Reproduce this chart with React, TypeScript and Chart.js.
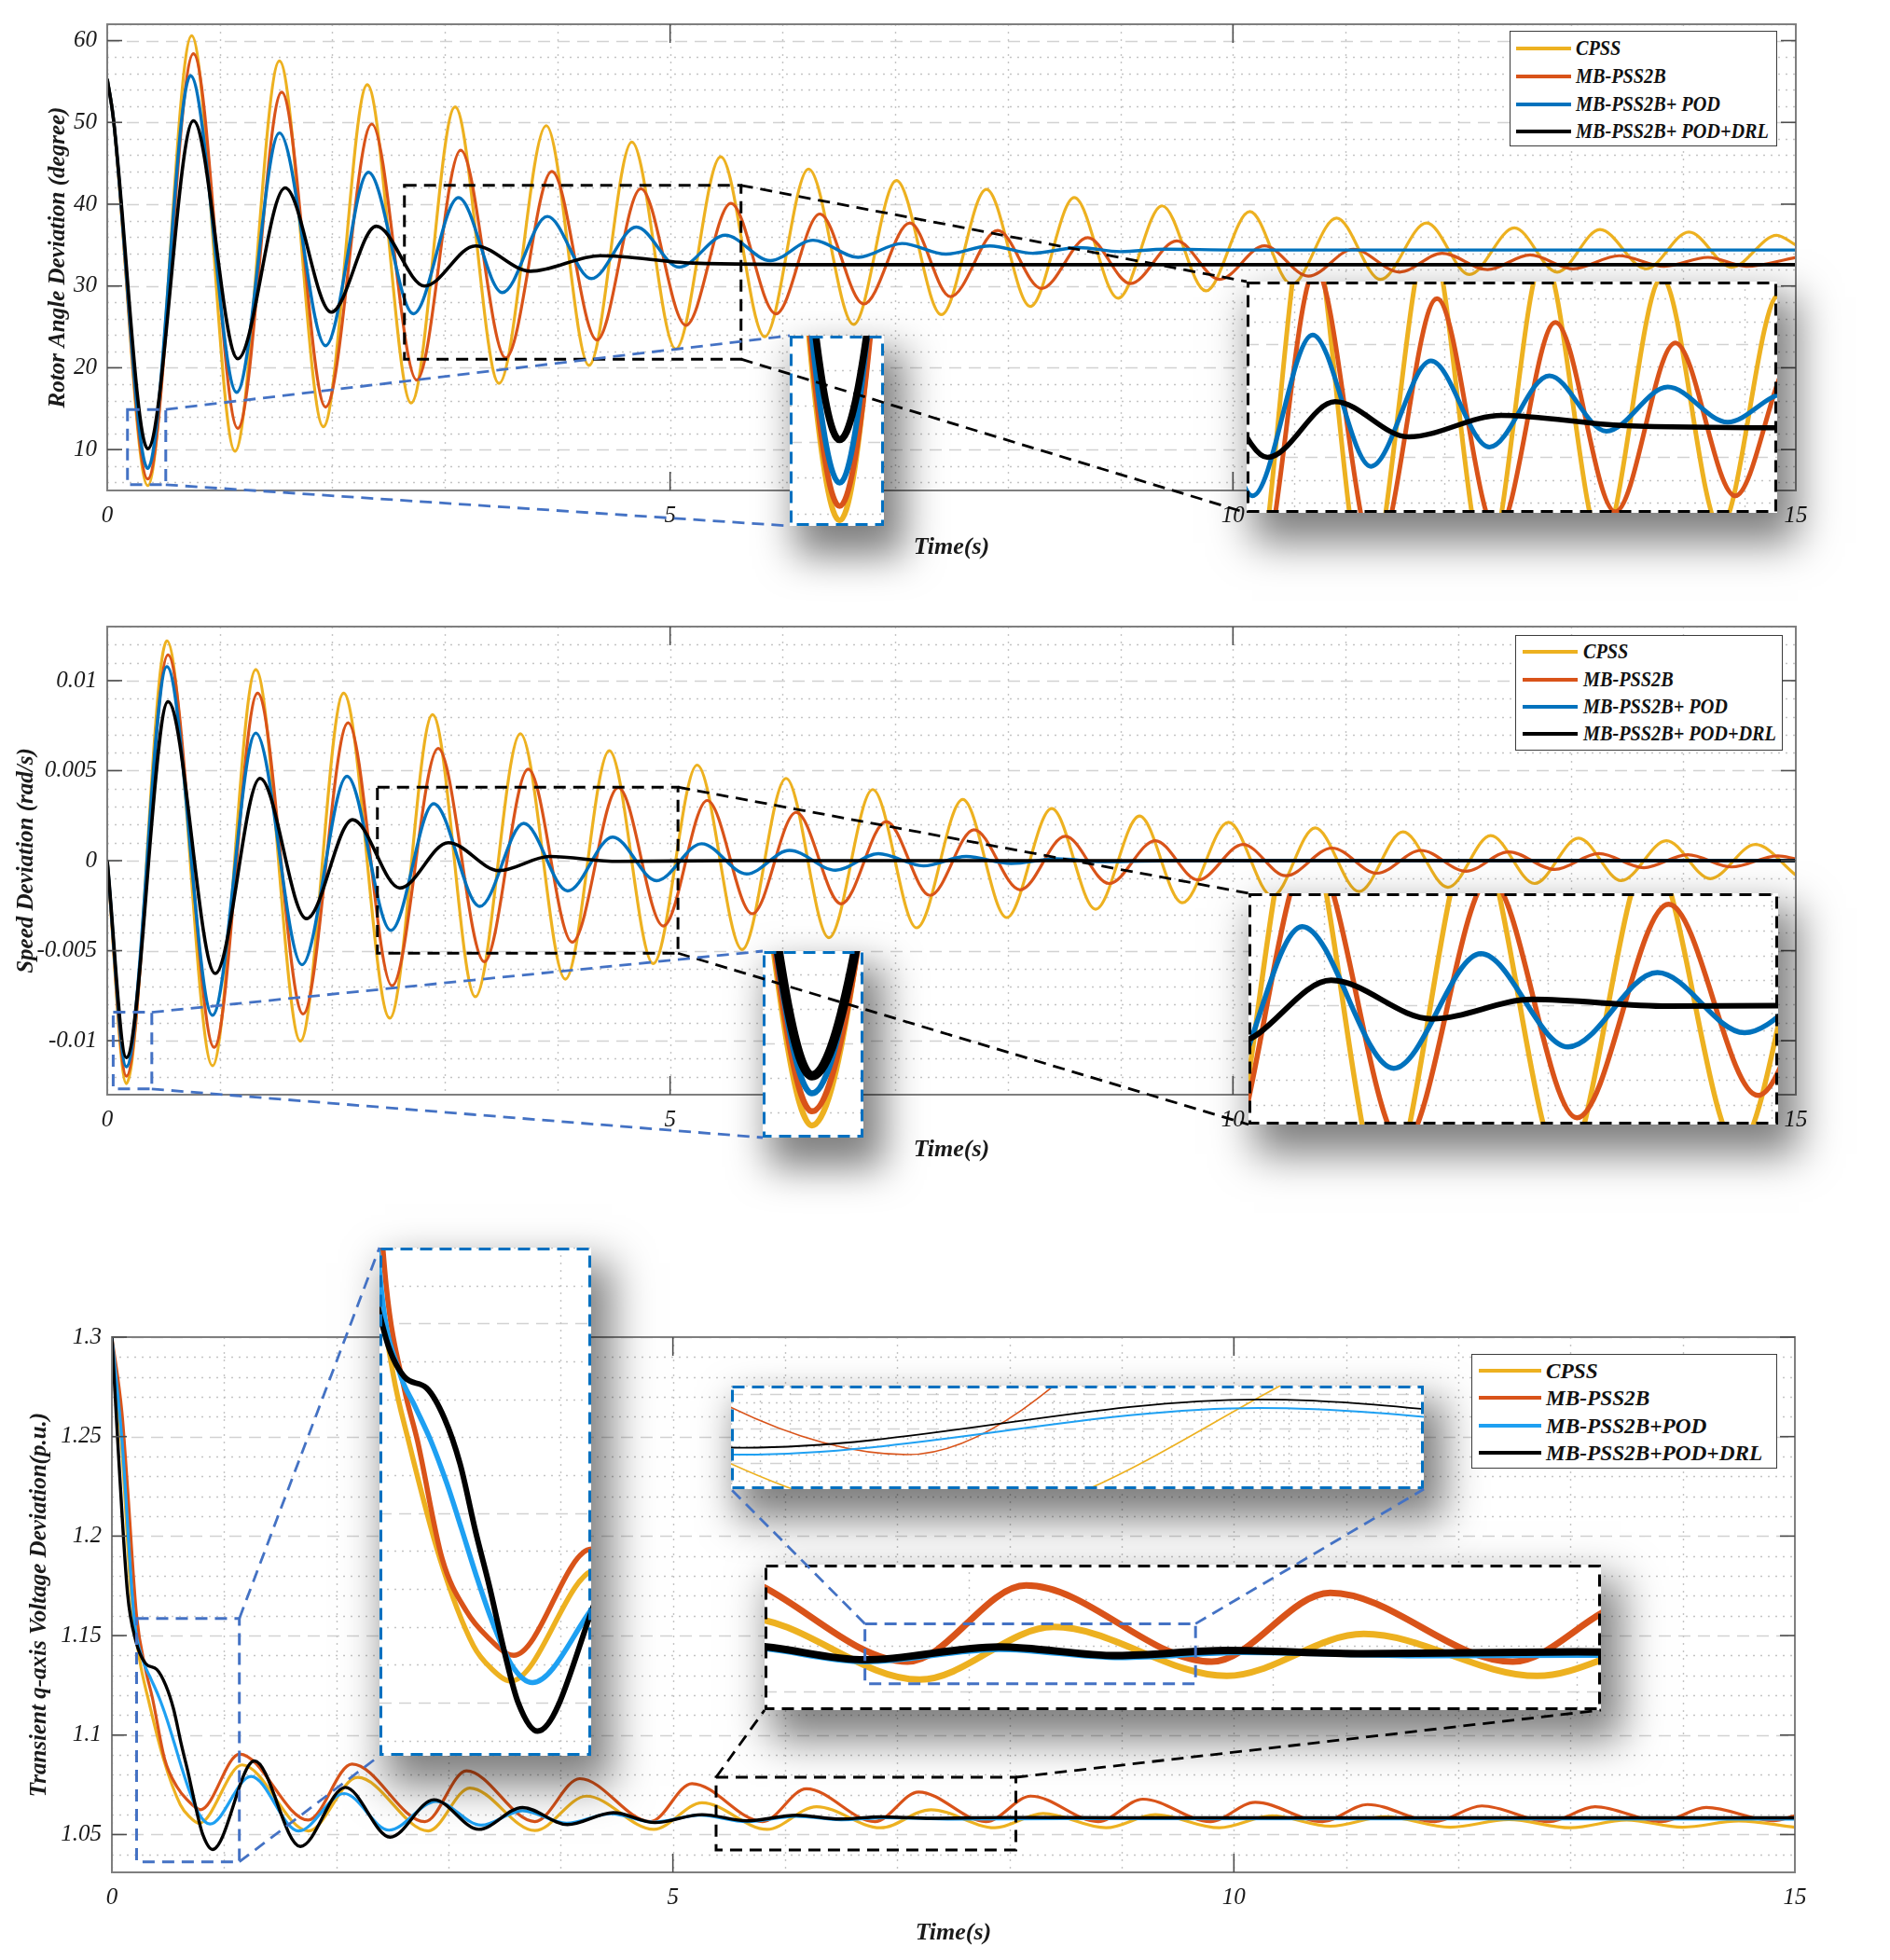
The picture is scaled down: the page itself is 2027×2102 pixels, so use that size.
import React, { useEffect, useRef } from 'react';
import { Chart, registerables } from 'chart.js';

Chart.register(...registerables);

const PAGE_W = 2027;
const PAGE_H = 2102;
const FONT = "'Liberation Serif', 'Times New Roman', Times, serif";

// ---------------- labels / ticks ----------------
const LABELS_UPPER = ['CPSS', 'MB-PSS2B', 'MB-PSS2B+ POD', 'MB-PSS2B+ POD+DRL'];
const LABELS_LOWER = ['CPSS', 'MB-PSS2B', 'MB-PSS2B+POD', 'MB-PSS2B+POD+DRL'];
const COLORS_UPPER = ['#EDB120', '#D95319', '#0072BD', '#000000'];
const COLORS_LOWER = ['#EDB120', '#D95319', '#1EA0F2', '#000000'];

const TIME_TICKS = [0, 5, 10, 15];
const ROTOR_TICKS = [10, 20, 30, 40, 50, 60];
const ROTOR_TICK_LABELS = ['10', '20', '30', '40', '50', '60'];
const SPEED_TICKS = [-0.01, -0.005, 0, 0.005, 0.01];
const SPEED_TICK_LABELS = ['-0.01', '-0.005', '0', '0.005', '0.01'];
const VOLT_TICKS = [1.05, 1.1, 1.15, 1.2, 1.25, 1.3];
const VOLT_TICK_LABELS = ['1.05', '1.1', '1.15', '1.2', '1.25', '1.3'];

// ---------------- data: rotor angle deviation (degree) ----------------
const ROTOR_CPSS = [
  [0, 55.3], [0.05, 51], [0.36, 5.6], [0.75, 60.6], [1.135, 9.8], [1.53, 57.5], [1.92, 12.8], [2.31, 54.6],
  [2.7, 15.7], [3.09, 51.9], [3.48, 18.1], [3.9, 49.6], [4.28, 20.3], [4.66, 47.6], [5.05, 22.3], [5.45, 45.8],
  [5.84, 23.8], [6.23, 44.3], [6.63, 25.3], [7.01, 42.9], [7.41, 26.5], [7.81, 41.8], [8.2, 27.5], [8.59, 40.8],
  [8.98, 28.5], [9.37, 39.8], [9.76, 29.4], [10.15, 39.1], [10.52, 30.2], [10.92, 38.3], [11.31, 30.8],
  [11.72, 37.7], [12.1, 31.4], [12.5, 37.1], [12.88, 31.7], [13.26, 36.9], [13.67, 32.1], [14.05, 36.6],
  [14.43, 32.3], [14.83, 36.2], [15, 35.0],
];
const ROTOR_MBPSS = [
  [0, 55.3], [0.05, 51], [0.36, 6.4], [0.766, 58.4], [1.16, 12.6], [1.55, 53.7], [1.94, 15.2], [2.35, 49.8],
  [2.75, 18.5], [3.14, 46.6], [3.54, 21.2], [3.95, 44.0], [4.35, 23.4], [4.74, 41.9], [5.14, 25.2], [5.54, 40.1],
  [5.94, 26.6], [6.33, 38.8], [6.72, 27.8], [7.13, 37.7], [7.49, 28.7], [7.91, 36.8], [8.3, 29.7], [8.71, 35.9],
  [9.09, 30.3], [9.5, 35.5], [9.88, 30.8], [10.28, 34.9], [10.67, 31.2], [11.07, 34.5], [11.48, 31.7],
  [11.86, 34.0], [12.26, 32.0], [12.64, 33.8], [13.02, 32.1], [13.43, 33.7], [13.83, 32.4], [14.22, 33.5],
  [14.56, 32.4], [15, 33.5],
];
const ROTOR_POD = [
  [0, 55.3], [0.05, 51], [0.36, 7.7], [0.74, 55.7], [1.15, 17.0], [1.53, 48.7], [1.94, 22.7], [2.32, 43.9],
  [2.72, 26.6], [3.12, 40.8], [3.51, 29.2], [3.91, 38.5], [4.3, 30.9], [4.7, 37.2], [5.08, 32.3], [5.49, 36.2],
  [5.89, 33.1], [6.27, 35.6], [6.67, 33.5], [7.06, 35.2], [7.45, 33.9], [7.84, 34.9], [8.22, 34.0], [8.63, 34.7],
  [9.0, 34.2], [9.4, 34.5], [10, 34.4], [15, 34.4],
];
const ROTOR_DRL = [
  [0, 55.3], [0.05, 51], [0.36, 10.1], [0.766, 50.2], [1.16, 21.1], [1.58, 42.0], [1.99, 26.8], [2.39, 37.3],
  [2.82, 30.0], [3.27, 34.9], [3.76, 31.8], [4.38, 33.7], [5.2, 32.8], [6.5, 32.6], [15, 32.6],
];

// ---------------- data: speed deviation (rad/s) ----------------
const SPEED_CPSS = [
  [0, 0], [0.17, -0.01238], [0.53, 0.01221], [0.935, -0.01139], [1.32, 0.01061], [1.716, -0.01002], [2.1, 0.0093],
  [2.51, -0.00875], [2.89, 0.00811], [3.27, -0.00756], [3.67, 0.00705], [4.07, -0.00658], [4.46, 0.00611],
  [4.85, -0.00572], [5.24, 0.00531], [5.64, -0.00494], [6.03, 0.00457], [6.41, -0.00428], [6.8, 0.00395],
  [7.19, -0.00373], [7.6, 0.0034], [7.99, -0.00316], [8.39, 0.00289], [8.78, -0.0027], [9.17, 0.00248],
  [9.55, -0.00234], [9.96, 0.00213], [10.35, -0.00197], [10.73, 0.00182], [11.12, -0.00172], [11.51, 0.0016],
  [11.91, -0.00148], [12.29, 0.00139], [12.68, -0.00127], [13.07, 0.00125], [13.45, -0.00111], [13.85, 0.00111],
  [14.24, -0.001], [14.64, 0.0009], [15, -0.0008],
];
const SPEED_MBPSS = [
  [0, 0], [0.17, -0.01197], [0.54, 0.01143], [0.95, -0.01037], [1.336, 0.0093], [1.74, -0.00852], [2.14, 0.00766],
  [2.53, -0.00695], [2.94, 0.00623], [3.35, -0.00561], [3.74, 0.00508], [4.13, -0.00453], [4.54, 0.00406],
  [4.94, -0.00363], [5.33, 0.00334], [5.73, -0.00295], [6.12, 0.00268], [6.52, -0.0024], [6.92, 0.00217],
  [7.31, -0.00193], [7.7, 0.00172], [8.11, -0.00162], [8.51, 0.00135], [8.9, -0.00127], [9.31, 0.00111],
  [9.69, -0.00107], [10.09, 0.0009], [10.47, -0.00084], [10.88, 0.0007], [11.28, -0.0007], [11.67, 0.00057],
  [12.07, -0.00059], [12.45, 0.00049], [12.86, -0.00049], [13.25, 0.00039], [13.65, -0.00039], [14.04, 0.00033],
  [14.43, -0.00035], [14.84, 0.00027], [15, 0.0001],
];
const SPEED_POD = [
  [0, 0], [0.17, -0.01145], [0.53, 0.01078], [0.935, -0.00859], [1.32, 0.00709], [1.73, -0.00578], [2.13, 0.00469],
  [2.52, -0.00387], [2.9, 0.00316], [3.31, -0.00254], [3.7, 0.00207], [4.09, -0.00168], [4.49, 0.00131],
  [4.88, -0.00111], [5.28, 0.00094], [5.68, -0.00074], [6.06, 0.00057], [6.47, -0.00053], [6.85, 0.00039],
  [7.25, -0.00029], [7.63, 0.00023], [8.03, -0.00016], [8.43, 0.0001], [8.85, -0.00006], [9.5, 0], [15, 0],
];
const SPEED_DRL = [
  [0, 0], [0.17, -0.01094], [0.54, 0.00883], [0.96, -0.00627], [1.357, 0.00457], [1.77, -0.00322], [2.18, 0.00227],
  [2.6, -0.00152], [3.03, 0.001], [3.48, -0.00055], [3.93, 0.00023], [4.54, -0.00004], [5.5, 0], [15, 0],
];

// ---------------- data: transient q-axis voltage (p.u.) ----------------
const VOLT_CPSS = [
  [0, 1.3], [0.09, 1.243], [0.17, 1.171], [0.25, 1.137], [0.32, 1.119], [0.46, 1.088], [0.61, 1.065], [0.69, 1.059],
  [0.777, 1.0557], [1.16, 1.085], [1.75, 1.0518], [2.19, 1.0787], [2.82, 1.0518], [3.19, 1.0734], [3.77, 1.052],
  [4.23, 1.0693], [4.83, 1.0526], [5.26, 1.066], [5.84, 1.0526], [6.28, 1.064], [6.85, 1.0534], [7.3, 1.0625],
  [7.87, 1.0534], [8.3, 1.0606], [8.86, 1.0534], [9.3, 1.06], [9.87, 1.0534], [10.34, 1.0594], [10.86, 1.0542],
  [11.35, 1.0589], [11.93, 1.0537], [12.45, 1.0575], [13.0, 1.0534], [13.5, 1.0573], [14.0, 1.0537],
  [14.5, 1.0568], [15, 1.0537],
];
const VOLT_MBPSS = [
  [0, 1.3], [0.09, 1.262], [0.14, 1.224], [0.22, 1.16], [0.3, 1.133], [0.36, 1.119], [0.47, 1.088], [0.58, 1.074],
  [0.67, 1.0675], [0.79, 1.0625], [1.138, 1.0905], [1.75, 1.0573], [2.14, 1.0854], [2.79, 1.0565], [3.16, 1.082],
  [3.77, 1.0565], [4.17, 1.0781], [4.8, 1.0565], [5.17, 1.0756], [5.8, 1.0565], [6.19, 1.073], [6.8, 1.0565],
  [7.19, 1.0714], [7.79, 1.0565], [8.19, 1.0693], [8.79, 1.0565], [9.19, 1.0678], [9.79, 1.0565], [10.19, 1.0662],
  [10.79, 1.0565], [11.19, 1.0651], [11.79, 1.0565], [12.21, 1.0644], [12.81, 1.0565], [13.22, 1.064],
  [13.81, 1.0565], [14.21, 1.0636], [14.81, 1.0569], [15, 1.0594],
];
const VOLT_POD = [
  [0, 1.3], [0.09, 1.248], [0.2, 1.158], [0.28, 1.137], [0.35, 1.128], [0.42, 1.119], [0.49, 1.108], [0.556, 1.096],
  [0.62, 1.084], [0.69, 1.072], [0.78, 1.06], [0.874, 1.0553], [1.24, 1.0792], [1.665, 1.0518], [2.07, 1.0706],
  [2.47, 1.0522], [2.89, 1.0667], [3.29, 1.0547], [3.66, 1.062], [4.05, 1.0557], [4.45, 1.0605], [4.83, 1.0562],
  [5.24, 1.0598], [5.66, 1.0565], [6.1, 1.0592], [6.5, 1.0574], [6.9, 1.0585], [7.5, 1.0578], [8.5, 1.058],
  [15, 1.0578],
];
const VOLT_DRL = [
  [0, 1.3], [0.06, 1.24], [0.14, 1.171], [0.21, 1.148], [0.3, 1.136], [0.4, 1.133], [0.48, 1.125], [0.55, 1.113],
  [0.62, 1.095], [0.68, 1.081], [0.75, 1.063], [0.81, 1.05], [0.897, 1.0425], [1.27, 1.087], [1.68, 1.044],
  [2.08, 1.0737], [2.48, 1.0487], [2.87, 1.0675], [3.27, 1.0526], [3.66, 1.0636], [4.06, 1.055], [4.47, 1.061],
  [4.84, 1.056], [5.26, 1.06], [5.66, 1.0569], [6.1, 1.0597], [6.49, 1.0578], [6.85, 1.0589], [7.3, 1.0582],
  [8.0, 1.0586], [9.0, 1.0584], [15, 1.0584],
];

// ---------------- zoom boxes (x0, x1, y0, y1 in data units) ----------------
const ZOOM_ROTOR_WIDE = [2.64, 5.63, 21.05, 42.3];
const ZOOM_ROTOR_DIP = [0.18, 0.52, 5.7, 14.9];
const ZOOM_SPEED_WIDE = [2.4, 5.07, -0.00514, 0.00408];
const ZOOM_SPEED_DIP = [0.053, 0.396, -0.01268, -0.00842];
const ZOOM_VOLT_EARLY = [0.22, 1.136, 1.0363, 1.1586];
const ZOOM_VOLT_MID = [5.385, 8.057, 1.0423, 1.0788];
const ZOOM_VOLT_FINE = [5.66, 6.747, 1.0517, 1.0647];

// ---------------- layout ----------------
const PANELS: any[] = [
  {
    id: 'rotor', top: 0, height: 640, plotLeft: 115, plotRight: 1926, plotTop: 17, plotBottom: 526,
    yMin: 5, yMax: 62, yTicks: ROTOR_TICKS, yTickLabels: ROTOR_TICK_LABELS,
    yTitle: 'Rotor Angle Deviation (degree)', yTitlePad: 48, xTitlePad: 37,
    series: [ROTOR_CPSS, ROTOR_MBPSS, ROTOR_POD, ROTOR_DRL], labels: LABELS_UPPER, colors: COLORS_UPPER,
    widths: [3.2, 3.2, 3.4, 3.6], grid: { yMajor: 10, yMinor: 2 },
    legend: { left: 1619, top: 33, width: 287, height: 124, rows: [18, 48, 78, 107], lineX: 6, lineLen: 59, gap: 5, size: 23, sx: 0.88 },
  },
  {
    id: 'speed', top: 640, height: 640, plotLeft: 115, plotRight: 1926, plotTop: 672, plotBottom: 1174,
    yMin: -0.013, yMax: 0.013, yTicks: SPEED_TICKS, yTickLabels: SPEED_TICK_LABELS,
    yTitle: 'Speed Deviation (rad/s)', yTitlePad: 14, xTitlePad: 31,
    series: [SPEED_CPSS, SPEED_MBPSS, SPEED_POD, SPEED_DRL], labels: LABELS_UPPER, colors: COLORS_UPPER,
    widths: [3.2, 3.2, 3.4, 3.6], grid: { yMajor: 0.005, yMinor: 0.001 },
    legend: { left: 1625, top: 681, width: 287, height: 124, rows: [17, 47, 76, 105], lineX: 7, lineLen: 59, gap: 6, size: 23, sx: 0.88 },
  },
  {
    id: 'volt', top: 1280, height: 822, plotLeft: 120, plotRight: 1925, plotTop: 1434, plotBottom: 2008,
    yMin: 1.031, yMax: 1.3, yTicks: VOLT_TICKS, yTickLabels: VOLT_TICK_LABELS,
    yTitle: 'Transient q-axis Voltage Deviation(p.u.)', yTitlePad: 28, xTitlePad: 13,
    series: [VOLT_CPSS, VOLT_MBPSS, VOLT_POD, VOLT_DRL], labels: LABELS_LOWER, colors: COLORS_LOWER,
    widths: [3.2, 3.2, 3.2, 3.4], grid: { yMajor: 0.05, yMinor: 0.01 },
    legend: { left: 1578, top: 1452, width: 328, height: 123, rows: [17, 46, 76, 105], lineX: 7, lineLen: 67, gap: 5, size: 24, sx: 0.97 },
  },
];

const INSETS: any[] = [
  { id: 'rotorWide', panel: 'rotor', left: 1337, top: 302, width: 569, height: 248, x: [2.68, 6.22], y: [25.1, 45.5], widths: [5, 5, 5, 5.5], border: '#000', grid: { yMajor: 10, yMinor: 2, xMajor: 5, xMinor: 1 } },
  { id: 'rotorDip', panel: 'rotor', left: 847, top: 360, width: 101, height: 204, x: [0.18, 0.52], y: [5.3, 15.9], widths: [6, 6, 6, 7.5], border: '#0070C0', grid: { yMajor: 10, yMinor: 2, xMajor: 5, xMinor: 1 } },
  { id: 'speedWide', panel: 'speed', left: 1339, top: 958, width: 568, height: 248, x: [2.66, 5.03], y: [-0.0048, 0.0045], widths: [5.5, 5.5, 5.5, 6], border: '#000', grid: { yMajor: 0.005, yMinor: 0.001, xMajor: 5, xMinor: 1 } },
  { id: 'speedDip', panel: 'speed', left: 818, top: 1020, width: 108, height: 200, x: [0.055, 0.29], y: [-0.01273, -0.00733], widths: [6.5, 6.5, 6.5, 10], border: '#0070C0', grid: { yMajor: 0.005, yMinor: 0.001, xMajor: 5, xMinor: 1 } },
  { id: 'voltEarly', panel: 'volt', left: 407, top: 1338, width: 227, height: 545, x: [0.19, 1.136], y: [1.036, 1.17], widths: [5.5, 5.5, 5.5, 6], border: '#0070C0', grid: { yMajor: 0.05, yMinor: 0.01, xMajor: 5, xMinor: 1 } },
  { id: 'voltMid', panel: 'volt', left: 820, top: 1678, width: 897, height: 156, x: [5.33, 8.08], y: [1.046, 1.0775], widths: [7, 7, 6, 8], border: '#000', grid: { yMajor: 0.05, yMinor: 0.01, xMajor: 5, xMinor: 1 } },
  { id: 'voltFine', panel: 'volt', left: 784, top: 1486, width: 743, height: 111, x: [5.65, 6.24], y: [1.0545, 1.0605], widths: [1.6, 1.6, 2, 1.8], border: '#0070C0', grid: { yMajor: 0.002, yMinor: 0.0005, xMajor: 1, xMinor: 0.025 } },
];

const ZOOMS: any[] = [
  { on: 'rotor', box: ZOOM_ROTOR_WIDE, color: '#000', inset: 'rotorWide', links: [['tr', 'tl'], ['br', 'bl']] },
  { on: 'rotor', box: ZOOM_ROTOR_DIP, color: '#4472C4', inset: 'rotorDip', links: [['tr', 'tl'], ['br', 'bl']] },
  { on: 'speed', box: ZOOM_SPEED_WIDE, color: '#000', inset: 'speedWide', links: [['tr', 'tl'], ['br', 'bl']] },
  { on: 'speed', box: ZOOM_SPEED_DIP, color: '#4472C4', inset: 'speedDip', links: [['tr', 'tl'], ['br', 'bl']] },
  { on: 'volt', box: ZOOM_VOLT_EARLY, color: '#4472C4', inset: 'voltEarly', links: [['tr', 'tl'], ['br', 'bl']] },
  { on: 'volt', box: ZOOM_VOLT_MID, color: '#000', inset: 'voltMid', links: [['tl', 'bl'], ['tr', 'br']] },
  { on: 'voltMid', box: ZOOM_VOLT_FINE, color: '#4472C4', inset: 'voltFine', links: [['tl', 'bl'], ['tr', 'br']] },
];

// ---------------- helpers ----------------
const toXY = (s: number[][]) => s.map(([x, y]) => ({ x, y }));
const labelFor = (ticks: number[], labels: string[]) => (v: number) => {
  const i = ticks.findIndex((t) => Math.abs(t - v) < 1e-9);
  return i >= 0 ? labels[i] : '';
};

const matGrid = {
  id: 'matGrid',
  beforeDatasetsDraw(chart: any, _a: any, o: any) {
    if (!o || !o.on) return;
    const { ctx, chartArea: a } = chart;
    const xs = chart.scales.x;
    const ys = chart.scales.y;
    ctx.save();
    ctx.beginPath();
    ctx.rect(a.left, a.top, a.right - a.left, a.bottom - a.top);
    ctx.clip();
    ctx.lineWidth = 1.4;
    const each = (min: number, max: number, minor: number, major: number, cb: (v: number, maj: boolean) => void) => {
      const n0 = Math.ceil(min / minor - 1e-6);
      const n1 = Math.floor(max / minor + 1e-6);
      for (let n = n0; n <= n1; n++) {
        const v = n * minor;
        const r = v / major;
        cb(v, Math.abs(r - Math.round(r)) < 1e-6);
      }
    };
    const style = (maj: boolean) => {
      if (maj) { ctx.setLineDash([13, 8]); ctx.strokeStyle = '#d2d2d2'; }
      else { ctx.setLineDash([2, 6]); ctx.strokeStyle = '#c4c4c4'; }
    };
    each(ys.min, ys.max, o.yMinor, o.yMajor, (v, maj) => {
      const y = Math.round(ys.getPixelForValue(v)) + 0.5;
      style(maj);
      ctx.beginPath(); ctx.moveTo(a.left, y); ctx.lineTo(a.right, y); ctx.stroke();
    });
    each(xs.min, xs.max, o.xMinor, o.xMajor, (v) => {
      const x = Math.round(xs.getPixelForValue(v)) + 0.5;
      style(false);
      ctx.beginPath(); ctx.moveTo(x, a.top); ctx.lineTo(x, a.bottom); ctx.stroke();
    });
    ctx.restore();
  },
  afterDatasetsDraw(chart: any, _a: any, o: any) {
    if (!o || !o.frame) return;
    const { ctx, chartArea: a } = chart;
    const xs = chart.scales.x;
    const ys = chart.scales.y;
    ctx.save();
    ctx.setLineDash([]);
    ctx.strokeStyle = '#7f7f7f';
    ctx.lineWidth = 2;
    ctx.strokeRect(a.left, a.top, a.right - a.left, a.bottom - a.top);
    ctx.strokeStyle = '#4d4d4d';
    ctx.lineWidth = 1.6;
    const seg = (x1: number, y1: number, x2: number, y2: number) => { ctx.beginPath(); ctx.moveTo(x1, y1); ctx.lineTo(x2, y2); ctx.stroke(); };
    for (const v of o.xTicks) {
      if (v <= xs.min || v >= xs.max) continue;
      const x = xs.getPixelForValue(v);
      seg(x, a.bottom, x, a.bottom - 20);
      seg(x, a.top, x, a.top + 20);
    }
    for (const v of o.yTicks) {
      if (v < ys.min || v > ys.max) continue;
      const y = ys.getPixelForValue(v);
      seg(a.left, y, a.left + 16, y);
      seg(a.right, y, a.right - 16, y);
    }
    ctx.restore();
  },
};
Chart.register(matGrid as any);

function buildMain(p: any): any {
  const tickFont = { family: FONT, size: 25, style: 'italic', weight: 'normal' };
  const xTitleFont = { family: FONT, size: 26, style: 'italic', weight: 'bold' };
  const yTitleFont = { family: FONT, size: 25, style: 'italic', weight: 'bold' };
  const yLab = labelFor(p.yTicks, p.yTickLabels);
  return {
    type: 'line',
    data: {
      datasets: p.series.map((s: number[][], i: number) => ({
        label: p.labels[i], data: toXY(s), borderColor: p.colors[i], backgroundColor: p.colors[i],
        borderWidth: p.widths[i], pointRadius: 0, pointHoverRadius: 0, fill: false,
        cubicInterpolationMode: 'monotone', capBezierPoints: false, order: p.series.length - 1 - i,
      })),
    },
    options: {
      animation: false, responsive: false, maintainAspectRatio: false, devicePixelRatio: 1, events: [],
      layout: { padding: { left: 0, right: PAGE_W - p.plotRight, top: p.plotTop - p.top, bottom: 0 } },
      plugins: {
        legend: { display: false }, tooltip: { enabled: false },
        matGrid: { on: true, frame: true, xMajor: 5, xMinor: 1, yMajor: p.grid.yMajor, yMinor: p.grid.yMinor, xTicks: TIME_TICKS, yTicks: p.yTicks },
      },
      scales: {
        x: {
          type: 'linear', position: 'bottom', min: 0, max: 15,
          grid: { display: false, drawTicks: false, tickLength: 0 }, border: { display: false },
          afterBuildTicks: (s: any) => { s.ticks = TIME_TICKS.map((value) => ({ value })); },
          afterFit: (s: any) => { s.height = p.top + p.height - p.plotBottom; },
          ticks: { font: tickFont, color: '#1a1a1a', padding: 12, maxRotation: 0, minRotation: 0, autoSkip: false, callback: (v: number) => String(v) },
          title: { display: true, text: 'Time(s)', font: xTitleFont, color: '#1a1a1a', padding: { top: 0, bottom: p.xTitlePad } },
        },
        y: {
          type: 'linear', position: 'left', min: p.yMin, max: p.yMax,
          grid: { display: false, drawTicks: false, tickLength: 0 }, border: { display: false },
          afterBuildTicks: (s: any) => { s.ticks = p.yTicks.map((value: number) => ({ value })); },
          afterFit: (s: any) => { s.width = p.plotLeft; },
          ticks: { font: tickFont, color: '#1a1a1a', padding: 11, autoSkip: false, callback: (v: number) => yLab(v) },
          title: { display: true, text: p.yTitle, font: yTitleFont, color: '#1a1a1a', padding: { top: p.yTitlePad, bottom: 0 } },
        },
      },
    },
  };
}

function buildInset(ins: any): any {
  const p = PANELS.find((q) => q.id === ins.panel);
  return {
    type: 'line',
    data: {
      datasets: p.series.map((s: number[][], i: number) => ({
        label: p.labels[i], data: toXY(s), borderColor: p.colors[i], backgroundColor: p.colors[i],
        borderWidth: ins.widths[i], pointRadius: 0, pointHoverRadius: 0, fill: false,
        cubicInterpolationMode: 'monotone', capBezierPoints: false, order: p.series.length - 1 - i,
      })),
    },
    options: {
      animation: false, responsive: false, maintainAspectRatio: false, devicePixelRatio: 1, events: [],
      layout: { padding: 0 },
      plugins: { legend: { display: false }, tooltip: { enabled: false }, matGrid: { on: true, frame: false, ...ins.grid } },
      scales: {
        x: { type: 'linear', display: false, min: ins.x[0], max: ins.x[1] },
        y: { type: 'linear', display: false, min: ins.y[0], max: ins.y[1] },
      },
    },
  };
}

function Legend({ p }: { p: any }) {
  const L = p.legend;
  return (
    <div style={{ position: 'absolute', left: L.left, top: L.top, width: L.width, height: L.height, border: '1.5px solid #3c3c3c', background: '#fff', boxSizing: 'border-box', zIndex: 3 }}>
      {p.labels.map((lab: string, i: number) => (
        <div key={lab + i} style={{ position: 'absolute', left: 0, top: L.rows[i] - 15, height: 30, display: 'flex', alignItems: 'center', whiteSpace: 'nowrap' }}>
          <span style={{ display: 'inline-block', marginLeft: L.lineX, width: L.lineLen, height: 4.5, background: p.colors[i] }} />
          <span style={{ display: 'inline-block', marginLeft: L.gap, fontFamily: FONT, fontStyle: 'italic', fontWeight: 'bold', fontSize: L.size, lineHeight: '30px', color: '#111', transform: `scaleX(${L.sx})`, transformOrigin: 'left center' }}>{lab}</span>
        </div>
      ))}
    </div>
  );
}

export default function App() {
  const canvasRefs = useRef<Record<string, HTMLCanvasElement | null>>({});
  const svgRef = useRef<SVGSVGElement | null>(null);

  useEffect(() => {
    const charts: Record<string, any> = {};
    const offsets: Record<string, { left: number; top: number }> = {};
    PANELS.forEach((p) => {
      const c = canvasRefs.current[p.id];
      if (c) { charts[p.id] = new Chart(c, buildMain(p)); offsets[p.id] = { left: 0, top: p.top }; }
    });
    INSETS.forEach((ins) => {
      const c = canvasRefs.current[ins.id];
      if (c) { charts[ins.id] = new Chart(c, buildInset(ins)); offsets[ins.id] = { left: ins.left, top: ins.top }; }
    });

    const svg = svgRef.current;
    if (svg) {
      const NS = 'http://www.w3.org/2000/svg';
      const add = (tag: string, attrs: Record<string, any>) => {
        const el = document.createElementNS(NS, tag);
        Object.keys(attrs).forEach((k) => el.setAttribute(k, String(attrs[k])));
        svg.appendChild(el);
      };
      const DASH = '13 8';
      INSETS.forEach((ins) => {
        add('rect', { x: ins.left + 1.5, y: ins.top + 1.5, width: ins.width - 3, height: ins.height - 3, fill: 'none', stroke: ins.border, 'stroke-width': 3, 'stroke-dasharray': DASH });
      });
      ZOOMS.forEach((z) => {
        const c = charts[z.on];
        const off = offsets[z.on];
        const ins = INSETS.find((q) => q.id === z.inset);
        if (!c || !ins) return;
        const [x0, x1, y0, y1] = z.box;
        const px0 = off.left + c.scales.x.getPixelForValue(x0);
        const px1 = off.left + c.scales.x.getPixelForValue(x1);
        const pyT = off.top + c.scales.y.getPixelForValue(y1);
        const pyB = off.top + c.scales.y.getPixelForValue(y0);
        add('rect', { x: px0, y: pyT, width: px1 - px0, height: pyB - pyT, fill: 'none', stroke: z.color, 'stroke-width': 3, 'stroke-dasharray': DASH });
        const rc: any = { tl: [px0, pyT], tr: [px1, pyT], bl: [px0, pyB], br: [px1, pyB] };
        const ic: any = {
          tl: [ins.left, ins.top], tr: [ins.left + ins.width, ins.top],
          bl: [ins.left, ins.top + ins.height], br: [ins.left + ins.width, ins.top + ins.height],
        };
        z.links.forEach(([a, b]: string[]) => {
          add('line', { x1: rc[a][0], y1: rc[a][1], x2: ic[b][0], y2: ic[b][1], stroke: z.color, 'stroke-width': 2.8, 'stroke-dasharray': DASH });
        });
      });
    }

    return () => {
      Object.values(charts).forEach((c) => c.destroy());
      if (svg) while (svg.firstChild) svg.removeChild(svg.firstChild);
    };
  }, []);

  return (
    <div style={{ position: 'absolute', left: 0, top: 0, width: PAGE_W, height: PAGE_H, background: '#fff', overflow: 'hidden' }}>
      {PANELS.map((p) => (
        <canvas key={p.id} ref={(el) => { canvasRefs.current[p.id] = el; }} width={PAGE_W} height={p.height}
          style={{ position: 'absolute', left: 0, top: p.top, width: PAGE_W, height: p.height, zIndex: 1 }} />
      ))}
      {PANELS.map((p) => <Legend key={'lg-' + p.id} p={p} />)}
      {INSETS.map((ins) => (
        <div key={ins.id} style={{ position: 'absolute', left: ins.left, top: ins.top, width: ins.width, height: ins.height, background: '#fff', boxShadow: '14px 24px 42px 8px rgba(0,0,0,0.5)', zIndex: 2 }}>
          <canvas ref={(el) => { canvasRefs.current[ins.id] = el; }} width={ins.width} height={ins.height}
            style={{ position: 'absolute', left: 0, top: 0, width: ins.width, height: ins.height }} />
        </div>
      ))}
      <svg ref={svgRef} width={PAGE_W} height={PAGE_H} style={{ position: 'absolute', left: 0, top: 0, zIndex: 4, pointerEvents: 'none' }} />
    </div>
  );
}
